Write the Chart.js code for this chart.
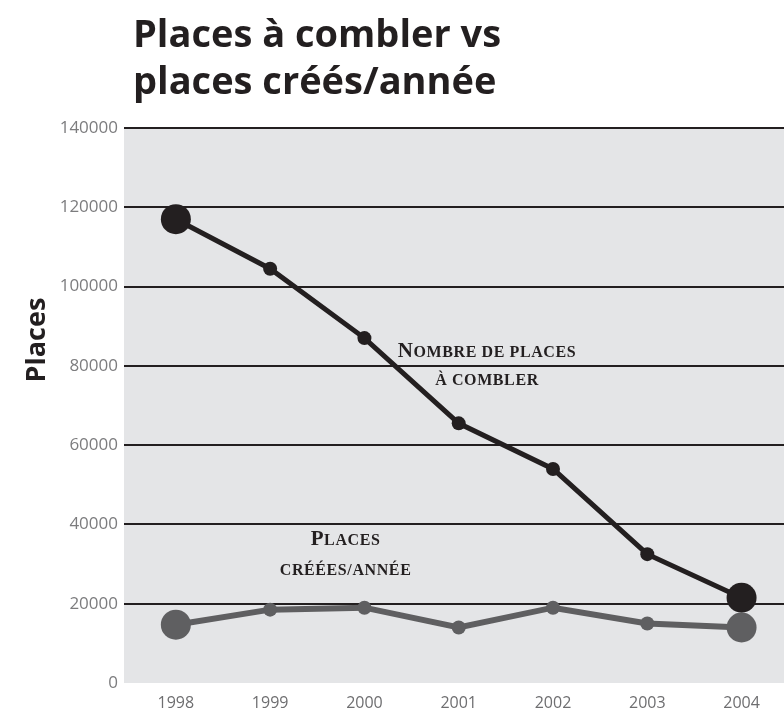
<!DOCTYPE html>
<html>
<head>
<meta charset="utf-8">
<script src="https://cdn.jsdelivr.net/npm/chart.js@4.4.1/dist/chart.umd.min.js"></script>
<style>
  html, body { margin: 0; padding: 0; background: #ffffff; }
  #wrap { width: 784px; height: 712px; position: relative; }
</style>
</head>
<body>
<div id="wrap"><canvas id="c" width="784" height="712"></canvas></div>
<script>
// ---- data ----
const years = ['1998', '1999', '2000', '2001', '2002', '2003', '2004'];
const placesACombler = [117000, 104500, 87000, 65500, 54000, 32500, 21500];
const placesCreees = [14700, 18500, 19000, 14000, 19000, 15000, 14000];
const yTicks = [0, 20000, 40000, 60000, 80000, 100000, 120000, 140000];
const titleLines = ['Places à combler vs', 'places créés/année'];
const yAxisTitle = 'Places';
const labelCombler = ['Nombre de places', 'à combler'];
const labelCreees = ['Places', 'créées/année'];

const DARK = '#231f20';
const GREY = '#5f5f61';
const BG = '#e4e5e7';

const endRadius = years.map((_, i) => (i === 0 || i === years.length - 1) ? 15 : 7);

// draw text in small capitals: real capitals large, lower-case letters as smaller capitals
function smallCaps(ctx, text, cx, baseline, big, small) {
  const fam = "'Liberation Serif'";
  const runs = [];
  for (const ch of text) {
    const isCap = ch !== ch.toLowerCase();
    const size = isCap ? big : small;
    const last = runs[runs.length - 1];
    if (last && last.size === size) last.s += ch.toUpperCase();
    else runs.push({ s: ch.toUpperCase(), size });
  }
  ctx.letterSpacing = '0.6px';
  let total = 0;
  runs.forEach(r => { ctx.font = `bold ${r.size}px ${fam}`; r.w = ctx.measureText(r.s).width; total += r.w; });
  let x = cx - total / 2;
  ctx.textAlign = 'left';
  runs.forEach(r => { ctx.font = `bold ${r.size}px ${fam}`; ctx.fillText(r.s, x, baseline); x += r.w; });
  ctx.letterSpacing = '0px';
}

const decor = {
  id: 'decor',
  beforeDraw(chart) {
    const { ctx, chartArea: a } = chart;
    ctx.save();
    ctx.fillStyle = BG;
    ctx.fillRect(a.left, a.top, a.right - a.left, a.bottom - a.top);
    ctx.restore();
  },
  afterDraw(chart) {
    const { ctx, scales } = chart;
    const x = scales.x;
    ctx.save();
    // title
    ctx.fillStyle = DARK;
    ctx.textAlign = 'left';
    ctx.textBaseline = 'alphabetic';
    ctx.font = "bold 38px 'Open Sans'";
    ctx.fillText(titleLines[0], 133, 47);
    ctx.fillText(titleLines[1], 133, 94);
    // y axis title
    ctx.save();
    ctx.translate(45, 340);
    ctx.rotate(-Math.PI / 2);
    ctx.textAlign = 'center';
    ctx.font = "bold 27px 'Open Sans'";
    ctx.fillText(yAxisTitle, 0, 0);
    ctx.restore();
    // series annotations
    const cx1 = x.getPixelForValue(2001.3);
    smallCaps(ctx, labelCombler[0], cx1, 357, 21, 16);
    smallCaps(ctx, labelCombler[1], cx1, 385, 21, 16);
    const cx2 = x.getPixelForValue(1999.8);
    smallCaps(ctx, labelCreees[0], cx2, 545, 21, 16);
    smallCaps(ctx, labelCreees[1], cx2, 575, 21, 16);
    ctx.restore();
  }
};

new Chart(document.getElementById('c'), {
  type: 'line',
  data: {
    datasets: [
      {
        label: labelCreees.join(' '),
        data: years.map((yr, i) => ({ x: Number(yr), y: placesCreees[i] })),
        borderColor: GREY,
        backgroundColor: GREY,
        borderWidth: 6,
        pointRadius: endRadius,
        pointBorderWidth: 0,
        pointBackgroundColor: GREY,
        tension: 0
      },
      {
        label: labelCombler.join(' '),
        data: years.map((yr, i) => ({ x: Number(yr), y: placesACombler[i] })),
        borderColor: DARK,
        backgroundColor: DARK,
        borderWidth: 5,
        pointRadius: endRadius,
        pointBorderWidth: 0,
        pointBackgroundColor: DARK,
        tension: 0
      }
    ]
  },
  options: {
    responsive: false,
    animation: false,
    clip: false,
    layout: { autoPadding: false, padding: { top: 128, left: 0, right: 0, bottom: 0 } },
    plugins: {
      legend: { display: false },
      title: { display: false },
      tooltip: { enabled: false }
    },
    scales: {
      x: {
        type: 'linear',
        min: 1997.45,
        max: 2004.45,
        afterBuildTicks(scale) { scale.ticks = years.map(v => ({ value: Number(v) })); },
        afterFit(scale) { scale.height = 29; scale.paddingLeft = 0; scale.paddingRight = 0; },
        grid: { display: false, drawTicks: false },
        border: { display: false },
        ticks: {
          callback: v => String(v),
          color: '#6e6e70',
          font: { family: "'Open Sans'", size: 16 },
          padding: 11,
          maxRotation: 0,
          autoSkip: false
        }
      },
      y: {
        min: 0,
        max: 140000,
        afterBuildTicks(scale) { scale.ticks = yTicks.map(v => ({ value: v })); },
        afterFit(scale) { scale.width = 124; scale.paddingTop = 0; scale.paddingBottom = 0; },
        grid: {
          color: ctx => ctx.tick && ctx.tick.value === 0 ? 'rgba(0,0,0,0)' : DARK,
          lineWidth: 2,
          drawTicks: false
        },
        border: { display: false },
        ticks: {
          callback: v => String(v),
          color: '#7c7c7e',
          font: { family: "'Open Sans'", size: 17 },
          padding: 6
        }
      }
    }
  },
  plugins: [decor]
});
</script>
</body>
</html>
